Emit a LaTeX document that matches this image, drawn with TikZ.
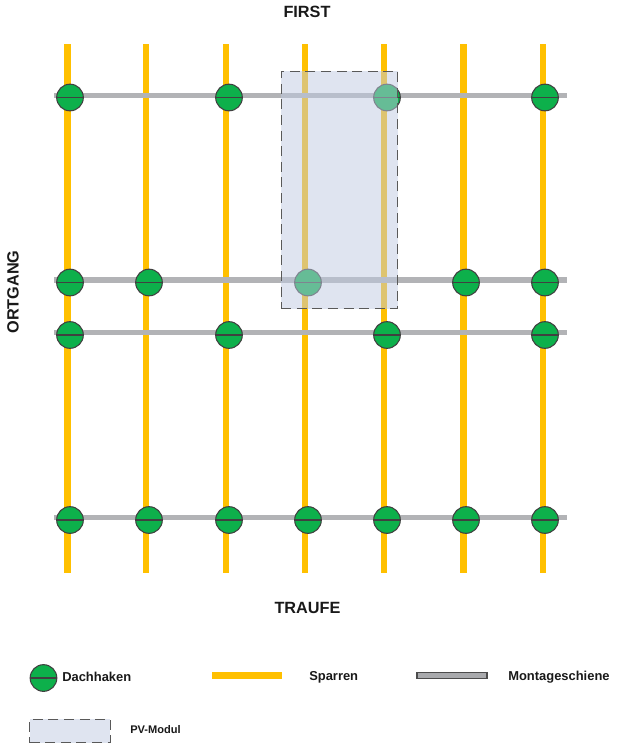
\documentclass[tikz,border=0pt]{standalone}
\usepackage{fontspec}
\setmainfont{Liberation Sans}
\definecolor{rafter}{HTML}{FFC000}
\definecolor{railc}{HTML}{B2B3B6}
\definecolor{hook}{HTML}{0DB04B}
\definecolor{pv}{HTML}{BFC9E1}
\definecolor{pvsolid}{HTML}{DFE4F0}
\tikzset{
  rafterline/.style={draw=rafter,line width=4.8pt},
  railline/.style={draw=railc,line width=4.2pt},
  hooknode/.style={circle,draw=black!75,fill=hook,line width=0.8pt,minimum size=20pt,inner sep=0pt,
    path picture={\draw[black!75,line width=0.8pt] (path picture bounding box.west)--(path picture bounding box.east);}},
  pvbox/.style={draw=black!65,fill=pv,fill opacity=0.5,draw opacity=1,dash pattern=on 7.5pt off 4.2pt,line width=0.95pt,inner sep=0pt},
  boldlabel/.style={font=\bfseries,text=black!90,inner sep=0pt},
}
\begin{document}
\begin{tikzpicture}[x=0.75pt,y=-0.75pt]
\useasboundingbox (0,0) rectangle (618,750);
% rafters
\foreach \n/\x in {1/67.5,2/146,3/226,4/305,5/384,6/463.5,7/543}{
  \coordinate (rt\n) at (\x,44);
  \coordinate (rb\n) at (\x,573);
  \draw[rafterline] (rt\n) -- (rb\n);
}
% rails
\foreach \n/\y in {1/95.5,2/280,3/332.5,4/517.5}{
  \coordinate (ml\n) at (54,\y);
  \coordinate (mr\n) at (567,\y);
  \draw[railline] (ml\n) -- (mr\n);
}
% hooks
\foreach \n/\x in {a/70,b/229,c/387,d/545}
  \node[hooknode] (h1\n) at (\x,97.5) {};
\foreach \n/\x in {a/70,b/149,c/308,d/466,e/545}
  \node[hooknode] (h2\n) at (\x,282.5) {};
\foreach \n/\x in {a/70,b/229,c/387,d/545}
  \node[hooknode] (h3\n) at (\x,335) {};
\foreach \n/\x in {a/70,b/149,c/229,d/308,e/387,f/466,g/545}
  \node[hooknode] (h4\n) at (\x,520) {};
% PV module
\node[pvbox,minimum width=87.5pt,minimum height=178.2pt] (pvm) at (339.5,190) {};
% labels
\node[boldlabel,font=\bfseries\fontsize{12.2pt}{14pt}\selectfont] (first) at (307,12) {FIRST};
\node[boldlabel,font=\bfseries\fontsize{12.2pt}{14pt}\selectfont] (traufe) at (307.5,608) {TRAUFE};
\node[boldlabel,font=\bfseries\fontsize{12.2pt}{14pt}\selectfont,rotate=90] (ortgang) at (13,292) {ORTGANG};
% legend
\node[hooknode] (lh) at (43.5,678) {};
\node[boldlabel,font=\bfseries\fontsize{9.7pt}{12pt}\selectfont,anchor=west] (lhl) at (62,677) {Dachhaken};
\coordinate (ls1) at (212,675.5);
\coordinate (ls2) at (282,675.5);
\draw[rafterline] (ls1) -- (ls2);
\node[boldlabel,font=\bfseries\fontsize{9.7pt}{12pt}\selectfont,anchor=west] (lsl) at (309,677) {Sparren};
\node[draw=black!70,fill=railc!95!black,line width=0.8pt,minimum width=52.5pt,minimum height=4.5pt,inner sep=0pt] (lr) at (452,675.5) {};
\node[boldlabel,font=\bfseries\fontsize{9.7pt}{12pt}\selectfont,anchor=west] (lrl) at (508,677) {Montageschiene};
\node[pvbox,fill=pvsolid,fill opacity=1,minimum width=60.5pt,minimum height=17.5pt] (lp) at (70,731) {};
\node[boldlabel,font=\bfseries\fontsize{8.3pt}{10pt}\selectfont,anchor=west] (lpl) at (130,730) {PV-Modul};
\end{tikzpicture}
\end{document}
